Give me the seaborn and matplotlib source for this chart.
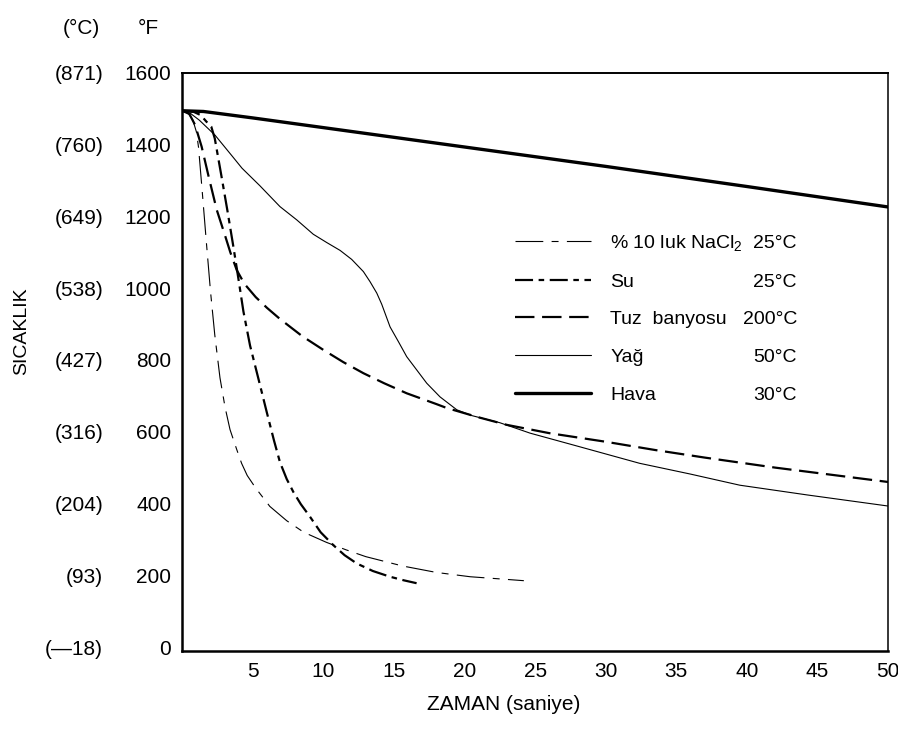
import matplotlib
matplotlib.use("Agg")
import matplotlib.pyplot as plt
import seaborn as sns
import pandas as pd

# --- data (time in s, temperature in °F) ---
nacl_t = [0, 0.4, 0.75, 1.0, 1.15, 1.4, 1.7, 2.0, 2.3, 2.67, 3.03, 3.38, 3.86, 4.2, 4.6, 5.2, 6.2,
          7.4, 8.6, 10.2, 11.6, 13.0, 15.6, 18.0, 20.4, 22.5, 24.2]
nacl_f = [1494, 1488, 1468, 1435, 1392, 1275, 1130, 990, 870, 750, 668, 606, 550, 512, 478, 443, 392,
          352, 320, 292, 271, 252, 226, 208, 196, 190, 185]

su_t = [0, 0.8, 1.3, 1.7, 2.05, 2.3, 2.76, 3.2, 3.62, 4.0, 4.33, 4.8, 5.39, 5.98, 6.5, 6.92, 7.4,
        7.87, 8.4, 9.05, 9.8, 10.7, 11.5, 12.36, 13.5, 14.72, 15.7, 16.6]
su_f = [1494, 1491, 1482, 1464, 1450, 1417, 1315, 1215, 1115, 1020, 935, 840, 748, 655, 575, 515, 468,
        432, 398, 363, 320, 284, 256, 233, 212, 196, 186, 178]

tuz_t = [0, 0.5, 0.9, 1.37, 1.9, 2.44, 3.0, 3.4, 3.86, 4.4, 5.2, 6.0, 6.92, 8.5, 9.99, 11.4, 12.83,
         14.3, 15.9, 18.0, 18.74, 21, 23, 26, 30, 33.5, 37, 42, 46, 50]
tuz_f = [1494, 1485, 1455, 1394, 1305, 1218, 1150, 1100, 1050, 1012, 975, 945, 914, 866, 828, 794, 763,
         735, 707, 677, 666, 640, 619, 596, 572, 549, 528, 500, 480, 460]

yag_t = [0, 0.6, 1.2, 2.32, 3.59, 4.23, 5.5, 6.92, 8.11, 9.28, 10.23, 11.18, 12.0, 12.83, 13.3, 13.78,
         14.13, 14.72, 15.31, 15.9, 16.61, 17.32, 18.26, 19.45, 20.5, 22.5, 24.64, 27.7, 32.4, 36, 39.5,
         44.25, 50]
yag_f = [1494, 1486, 1468, 1426, 1365, 1334, 1285, 1227, 1190, 1150, 1127, 1105, 1080, 1046, 1018, 986,
         955, 892, 851, 809, 772, 735, 697, 661, 645, 625, 596, 563, 512, 482, 451,
         424, 393]

hava_t = [0, 1.5, 5, 10, 20, 30, 40, 50]
hava_f = [1494, 1492, 1474, 1447, 1393, 1339, 1283, 1226]

names = ["% 10 luk NaCl$_2$", "Su", "Tuz  banyosu", "Yağ", "Hava"]
temps = ["25°C", "25°C", "200°C", "50°C", "30°C"]

f_ticks = [0, 200, 400, 600, 800, 1000, 1200, 1400, 1600]
c_labels = ["(—18)", "(93)", "(204)", "(316)", "(427)", "(538)", "(649)", "(760)", "(871)"]
x_ticks = [5, 10, 15, 20, 25, 30, 35, 40, 45, 50]

sns.set_style("white")
plt.rcParams["font.family"] = ["Liberation Sans", "DejaVu Sans"]
plt.rcParams["mathtext.default"] = "regular"
plt.rcParams["lines.scale_dashes"] = False
for k in ["text.color", "axes.labelcolor", "xtick.color", "ytick.color"]:
    plt.rcParams[k] = "black"

W, H = 898, 733
fig = plt.figure(figsize=(W / 100, H / 100), dpi=100)
ax = fig.add_axes([182.3 / W, 1 - 650.7 / H, (888 - 182.3) / W, (650.7 - 72.7) / H])

styles = [
    dict(lw=0.8, ls=(0, (20, 6, 5, 6))),   # NaCl
    dict(lw=1.6, ls=(0, (13, 4, 4, 4))),   # Su
    dict(lw=1.6, ls=(0, (14, 5.5))),       # Tuz banyosu
    dict(lw=0.8, ls="-"),                  # Yag
    dict(lw=2.4, ls="-"),                  # Hava
]
series = [(nacl_t, nacl_f), (su_t, su_f), (tuz_t, tuz_f), (yag_t, yag_f), (hava_t, hava_f)]

for (t, f), st, nm in zip(series, styles, names):
    df = pd.DataFrame({"t": t, "f": f})
    sns.lineplot(data=df, x="t", y="f", ax=ax, color="black", linewidth=st["lw"],
                 linestyle=st["ls"], sort=False, label=nm)

ax.set_xlim(0, 50)
ax.set_ylim(-10, 1600)
ax.set_xticks(x_ticks)
ax.set_yticks(f_ticks)
ax.set_xlabel("")
ax.set_ylabel("")
ax.tick_params(axis="both", direction="in", length=6, width=1.2, color="black",
               labelsize=15, pad=8)
for side, lw in [("left", 1.8), ("bottom", 1.8), ("top", 1.4), ("right", 1.1)]:
    ax.spines[side].set_linewidth(lw)
    ax.spines[side].set_color("black")

# °C labels as a secondary axis
sec = ax.secondary_yaxis("left", functions=(lambda f: (f - 32) * 5 / 9, lambda c: c * 9 / 5 + 32))
sec.set_yticks([(f - 32) * 5 / 9 for f in f_ticks], labels=c_labels)
sec.tick_params(length=0, labelsize=15, pad=57)
sec.spines["left"].set_visible(False)

leg = ax.legend(loc="upper left", bbox_to_anchor=(515 / W, 1 - 233 / H), bbox_transform=fig.transFigure,
                frameon=False, fontsize=14, handlelength=3.9, handletextpad=1.0,
                labelspacing=1.03, borderpad=0, borderaxespad=0)

fig.canvas.draw()
for txt, tp in zip(leg.get_texts(), temps):
    bb = txt.get_window_extent()
    yc = (bb.y0 + bb.y1) / 2
    fig.text(797 / W, yc / H, tp, ha="right", va="center", fontsize=14)

fig.text(100 / W, 1 - 28 / H, "(°C)", ha="right", va="center", fontsize=15)
fig.text(148 / W, 1 - 28 / H, "°F", ha="center", va="center", fontsize=15)
fig.text(22 / W, 1 - 331 / H, "SICAKLIK", rotation=90, ha="center", va="center", fontsize=14)
fig.text(504 / W, 1 - 705 / H, "ZAMAN (saniye)", ha="center", va="center", fontsize=15)

fig.savefig("out.png", dpi=100)
